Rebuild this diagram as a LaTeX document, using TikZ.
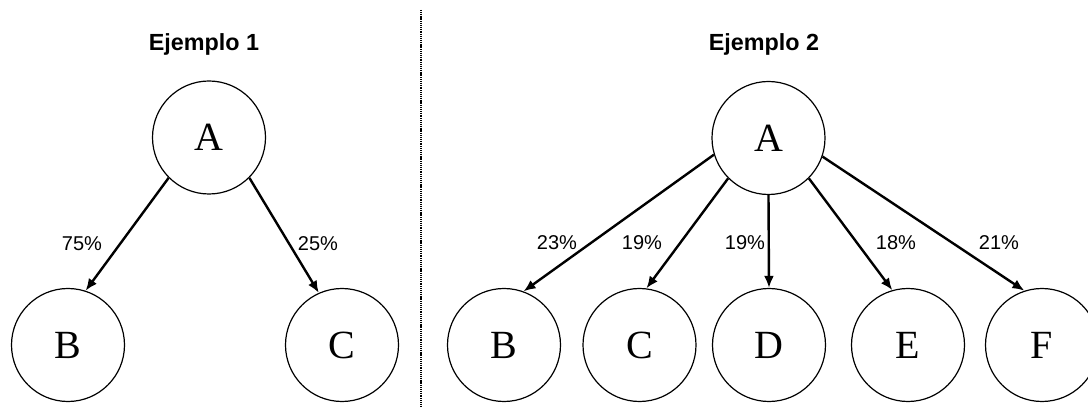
\documentclass[tikz,border=0pt]{standalone}
\usepackage{fontspec}
\setmainfont{Liberation Sans}
\newfontfamily\letterfont{Liberation Serif}
\usetikzlibrary{arrows.meta}

\begin{document}
\begin{tikzpicture}[x=0.75pt, y=-0.75pt,
	vertex/.style={circle, draw, line width=0.9pt, minimum size=84.75pt, inner sep=0pt,
		font=\letterfont\fontsize{30}{30}\selectfont},
	prob/.style={-{Latex[length=9pt,width=7.5pt]}, line width=1.8pt},
	pct/.style={anchor=base, inner sep=0pt, font=\fontsize{15}{15}\selectfont},
	heading/.style={anchor=base, inner sep=0pt, font=\bfseries\fontsize{17.5}{17.5}\selectfont},
	]
	\useasboundingbox (0,0) rectangle (1088,409);
	\node[heading] (title1) at (204,51) {Ejemplo 1};
	\node[heading] (title2) at (764,51) {Ejemplo 2};
	\coordinate (sepTop) at (421,10);
	\coordinate (sepBot) at (421,407);
	\draw[line width=0.8pt, dash pattern=on 0.8pt off 0.6pt] (sepTop) -- (sepBot);

	\node[vertex] (a1) at (209,137.5) {A};
	\node[vertex] (b1) at (68,345) {B};
	\node[vertex] (c1) at (342,345) {C};
	\draw[prob] (a1.225) -- (b1.72);
	\draw[prob] (a1.315) -- (c1.114);
	\node[pct] (p1) at (82,251) {75\%};
	\node[pct] (p2) at (318,251) {25\%};

	\node[vertex] (a2) at (768.5,138) {A};
	\node[vertex] (b2) at (504,345) {B};
	\node[vertex] (c2) at (639.5,345) {C};
	\node[vertex] (d2) at (769,345) {D};
	\node[vertex] (e2) at (908,345) {E};
	\node[vertex] (f2) at (1042,345) {F};
	\draw[prob] (a2.197) -- (b2.70);
	\draw[prob] (a2.225) -- (c2.83);
	\draw[prob] (a2.south) -- (d2.north);
	\draw[prob] (a2.315) -- (e2.106);
	\draw[prob] (a2.341) -- (f2.108);
	\node[pct] (q1) at (557,250) {23\%};
	\node[pct] (q2) at (642,250) {19\%};
	\node[pct] (q3) at (745,250) {19\%};
	\node[pct] (q4) at (896,250) {18\%};
	\node[pct] (q5) at (999,250) {21\%};
\end{tikzpicture}
\end{document}
